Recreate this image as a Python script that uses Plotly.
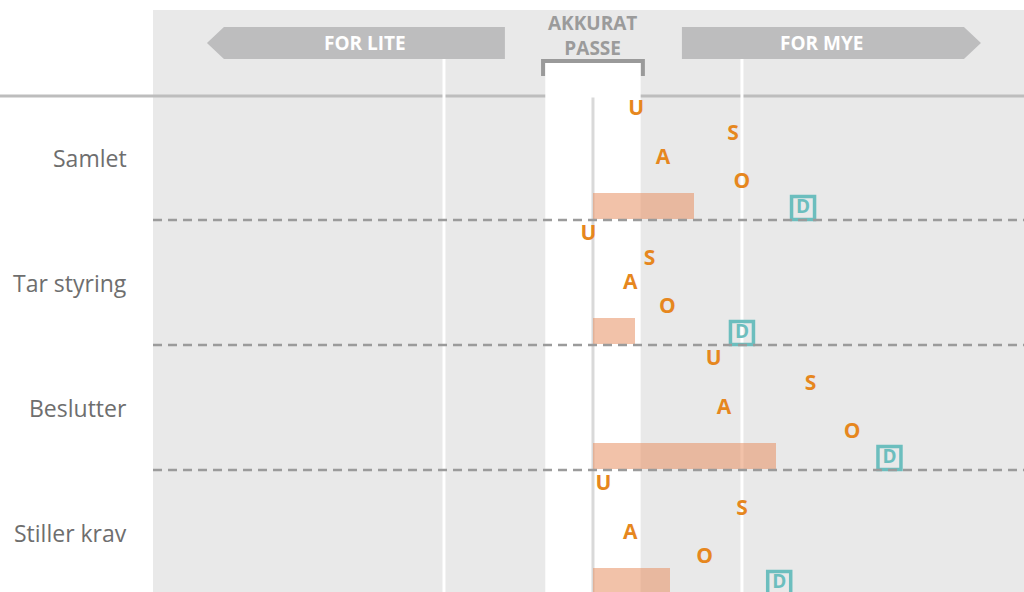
import plotly.graph_objects as go

# --- data (lest av figuren) ---
rader = ["Samlet", "Tar styring", "Beslutter", "Stiller krav"]
u_vals = [0.29, -0.03, 0.81, 0.07]
s_vals = [0.94, 0.38, 1.46, 1.00]
a_vals = [0.47, 0.25, 0.88, 0.25]
o_vals = [1.00, 0.50, 1.74, 0.75]
d_vals = [1.41, 1.00, 1.99, 1.25]
snitt = [0.68, 0.28, 1.23, 0.52]

# --- stil ---
ROW_H = 5
ORANGE = "#e6871e"
TEAL = "#6cbebe"
ARROW_GRAY = "#bdbdbe"
FONT = "Open Sans"
X_RANGE = [-2.953, 2.893]
Y_RANGE = [19.88, -3.4]


def ypos(offset):
    return [i * ROW_H + offset for i in range(len(rader))]


fig = go.Figure()

# snitt-stolper
fig.add_trace(go.Bar(
    x=snitt, y=ypos(4.42), base=0, orientation="h", width=1.04,
    marker=dict(color="rgba(231,143,99,0.55)", line=dict(width=0)),
    hoverinfo="skip",
))

# bokstavene
for navn, verdier, off in [("U", u_vals, 0.57), ("S", s_vals, 1.57),
                           ("A", a_vals, 2.55), ("O", o_vals, 3.49)]:
    fig.add_trace(go.Scatter(
        x=verdier, y=ypos(off), mode="text", text=[navn] * len(verdier),
        textposition="middle center",
        textfont=dict(family=FONT, size=21, color=ORANGE, weight="bold"),
        hoverinfo="skip",
    ))

# D i boks
fig.add_trace(go.Scatter(
    x=d_vals, y=ypos(4.52), mode="markers+text", text=["D"] * len(d_vals),
    textposition="middle center",
    marker=dict(symbol="square-open", size=23, color=TEAL, line=dict(width=3.5, color=TEAL)),
    textfont=dict(family=FONT, size=19, color=TEAL, weight="bold"),
    hoverinfo="skip",
))

y_bunn = Y_RANGE[0] + 1
shapes = []
# hvitt "akkurat passe"-felt
shapes.append(dict(type="rect", xref="x", yref="y", x0=-0.32, x1=0.32, y0=-1.28, y1=y_bunn,
                   fillcolor="white", line=dict(width=0), layer="below"))
# skillelinje under overskriften
shapes.append(dict(type="line", xref="paper", yref="y", x0=-153 / 871, x1=1, y0=0.04, y1=0.04,
                   line=dict(color="#bdbdbd", width=3), layer="below"))
# hvite referanselinjer
for xv in (-1, 1):
    shapes.append(dict(type="line", xref="x", yref="y", x0=xv, x1=xv, y0=-1.44, y1=y_bunn,
                       line=dict(color="white", width=3), layer="below"))
# nullinje
shapes.append(dict(type="line", xref="x", yref="y", x0=0, x1=0, y0=0.1, y1=y_bunn,
                   line=dict(color="#d9d9d9", width=3), layer="below"))
# klamme
shapes.append(dict(type="path", xref="x", yref="y",
                   path="M -0.335,-0.76 L -0.335,-1.36 L 0.335,-1.36 L 0.335,-0.76",
                   line=dict(color="#9a9a9a", width=4), layer="above"))
# piler
shapes.append(dict(type="path", xref="x", yref="y",
                   path="M -2.591,-2.08 L -2.477,-2.72 L -0.591,-2.72 L -0.591,-1.44 L -2.477,-1.44 Z",
                   fillcolor=ARROW_GRAY, line=dict(width=0), layer="below"))
shapes.append(dict(type="path", xref="x", yref="y",
                   path="M 0.597,-2.72 L 2.49,-2.72 L 2.604,-2.08 L 2.49,-1.44 L 0.597,-1.44 Z",
                   fillcolor=ARROW_GRAY, line=dict(width=0), layer="below"))
# stiplede radskiller
for i in range(1, len(rader)):
    shapes.append(dict(type="line", xref="paper", yref="y", x0=0, x1=1, y0=i * ROW_H, y1=i * ROW_H,
                       line=dict(color="#9b9b9b", width=2.5, dash="9px,6px"), layer="above"))

annotations = [
    dict(x=-1.53, y=-2.08, xref="x", yref="y", text="FOR LITE", showarrow=False,
         font=dict(family=FONT, size=19, color="white", weight="bold")),
    dict(x=1.537, y=-2.08, xref="x", yref="y", text="FOR MYE", showarrow=False,
         font=dict(family=FONT, size=19, color="white", weight="bold")),
    dict(x=0, y=-2.4, xref="x", yref="y", text="AKKURAT<br>PASSE", showarrow=False,
         font=dict(family=FONT, size=19, color="#9b9b9b", weight="bold")),
]
for i, navn in enumerate(rader):
    annotations.append(dict(x=0, y=i * ROW_H + 2.5, xref="paper", yref="y", text=navn,
                            showarrow=False, xanchor="right", xshift=-24,
                            font=dict(family=FONT, size=23, color="#6e6e6e")))

fig.update_layout(
    width=1024, height=592,
    margin=dict(l=153, r=0, t=10, b=0),
    plot_bgcolor="#e9e9e9", paper_bgcolor="white",
    showlegend=False,
    xaxis=dict(range=X_RANGE, visible=False, showgrid=False, zeroline=False, fixedrange=True),
    yaxis=dict(range=Y_RANGE, visible=False, showgrid=False, zeroline=False, fixedrange=True),
    shapes=shapes,
    annotations=annotations,
    bargap=0,
)

fig.write_html("out.html", config={"displayModeBar": False},
               post_script="document.body.style.margin='0px';")
